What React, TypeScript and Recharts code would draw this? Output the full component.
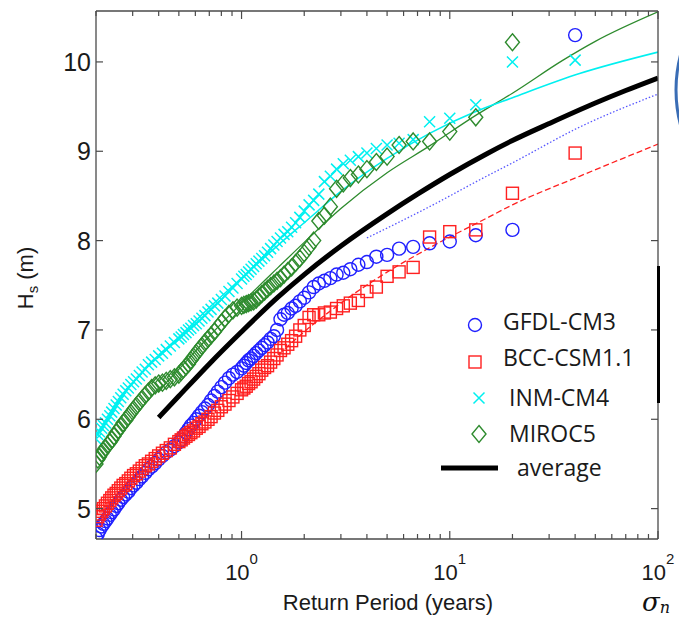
import React from "react";
import { ComposedChart, Scatter, Line, XAxis, YAxis, Legend } from "recharts";

// return periods (years) shared by the four model samples, largest first
const returnPeriods = [
  40, 20, 13.33, 10, 8, 6.67, 5.71, 5, 4.44, 4, 3.64, 3.33, 3.08, 2.86, 2.67, 2.5, 2.35, 2.22, 2.11, 2,
  1.905, 1.818, 1.739, 1.667, 1.6, 1.538, 1.481, 1.429, 1.379, 1.333, 1.29, 1.25, 1.212, 1.176, 1.143, 1.111, 1.081, 1.053, 1.026, 1,
  0.952, 0.909, 0.87, 0.833, 0.8, 0.769, 0.741, 0.714, 0.69, 0.667, 0.645, 0.625, 0.606, 0.588, 0.571, 0.556, 0.541, 0.526, 0.513, 0.5,
  0.476, 0.455, 0.435, 0.417, 0.4, 0.385, 0.37, 0.357, 0.345, 0.333, 0.323, 0.3125, 0.303, 0.294, 0.286,
  0.278, 0.27, 0.263, 0.256, 0.25, 0.244, 0.238, 0.233, 0.227, 0.222, 0.217, 0.213, 0.208, 0.204, 0.2,
];

const gfdl = [
  10.3, 8.12, 8.06, 7.99, 7.97, 7.93, 7.91, 7.84, 7.82, 7.76, 7.73, 7.68, 7.64, 7.62, 7.58, 7.55, 7.52, 7.48, 7.42, 7.36,
  7.32, 7.27, 7.24, 7.19, 7.17, 7.12, 7.0, 6.93, 6.9, 6.86, 6.83, 6.8, 6.77, 6.74, 6.71, 6.68, 6.66, 6.63, 6.6, 6.57,
  6.53, 6.5, 6.46, 6.41, 6.36, 6.31, 6.26, 6.21, 6.16, 6.12, 6.08, 6.04, 6.0, 5.96, 5.93, 5.89, 5.85, 5.81, 5.77, 5.74,
  5.7, 5.66, 5.63, 5.59, 5.55, 5.51, 5.47, 5.44, 5.4, 5.36, 5.33, 5.29, 5.26, 5.23, 5.19,
  5.16, 5.13, 5.1, 5.06, 5.03, 4.99, 4.96, 4.93, 4.89, 4.86, 4.83, 4.8, 4.76, 4.72, 4.67,
];

const bcc = [
  8.98, 8.53, 8.12, 8.1, 8.04, 7.7, 7.65, 7.6, 7.48, 7.43, 7.33, 7.3, 7.27, 7.24, 7.2, 7.19, 7.17, 7.17, 7.14, 7.05,
  7.0, 6.93, 6.88, 6.84, 6.8, 6.77, 6.72, 6.68, 6.64, 6.6, 6.58, 6.55, 6.51, 6.48, 6.45, 6.42, 6.4, 6.37, 6.35, 6.33,
  6.29, 6.25, 6.21, 6.17, 6.14, 6.1, 6.07, 6.03, 6.0, 5.97, 5.95, 5.92, 5.9, 5.87, 5.85, 5.83, 5.81, 5.79, 5.77, 5.75,
  5.72, 5.68, 5.65, 5.62, 5.59, 5.56, 5.53, 5.5, 5.48, 5.45, 5.42, 5.39, 5.37, 5.34, 5.31,
  5.28, 5.26, 5.23, 5.2, 5.17, 5.15, 5.12, 5.09, 5.06, 5.03, 5.0, 4.97, 4.94, 4.91, 4.87,
];

const inm = [
  10.02, 10.0, 9.52, 9.37, 9.33, 9.13, 9.09, 9.07, 9.03, 8.98, 8.94, 8.9, 8.86, 8.8, 8.72, 8.66, 8.52, 8.45, 8.4, 8.33,
  8.26, 8.2, 8.15, 8.1, 8.07, 8.03, 7.99, 7.95, 7.91, 7.87, 7.83, 7.8, 7.77, 7.74, 7.71, 7.68, 7.65, 7.62, 7.6, 7.57,
  7.52, 7.47, 7.43, 7.38, 7.34, 7.3, 7.27, 7.23, 7.2, 7.16, 7.13, 7.1, 7.07, 7.05, 7.02, 7.0, 6.97, 6.95, 6.92, 6.9,
  6.86, 6.82, 6.78, 6.74, 6.71, 6.67, 6.64, 6.61, 6.56, 6.53, 6.49, 6.45, 6.42, 6.39, 6.35,
  6.32, 6.28, 6.24, 6.2, 6.16, 6.12, 6.08, 6.04, 6.0, 5.96, 5.93, 5.9, 5.86, 5.83, 5.78,
];

// top MIROC5 value is above the plotted range
const miroc = [
  null, 10.22, 9.38, 9.22, 9.11, 9.11, 9.07, 8.94, 8.88, 8.8, 8.74, 8.7, 8.64, 8.58, 8.38, 8.28, 8.22, 8.0, 7.93, 7.86,
  7.8, 7.75, 7.7, 7.66, 7.62, 7.58, 7.55, 7.52, 7.49, 7.46, 7.43, 7.4, 7.37, 7.34, 7.32, 7.31, 7.3, 7.29, 7.28, 7.27,
  7.25, 7.22, 7.18, 7.13, 7.08, 7.03, 6.98, 6.94, 6.9, 6.86, 6.82, 6.78, 6.74, 6.7, 6.66, 6.62, 6.59, 6.56, 6.53, 6.5,
  6.47, 6.45, 6.43, 6.41, 6.4, 6.38, 6.35, 6.31, 6.27, 6.23, 6.19, 6.15, 6.11, 6.07, 6.03,
  5.99, 5.96, 5.92, 5.88, 5.85, 5.81, 5.77, 5.74, 5.71, 5.68, 5.65, 5.62, 5.58, 5.55, 5.5,
];

// fitted curves
const avgT = [0.4, 0.5, 0.7, 1, 1.5, 2, 3, 5, 7, 10, 15, 20, 30, 50, 70, 100];
const avgH = [6.02, 6.26, 6.62, 6.98, 7.37, 7.62, 7.94, 8.3, 8.52, 8.74, 8.97, 9.12, 9.31, 9.54, 9.68, 9.82];

const mirocFitT = [0.4, 0.5, 0.7, 1, 1.5, 2, 3, 5, 8, 13.5, 20, 35, 50, 100];
const mirocFitH = [6.32, 6.56, 6.93, 7.3, 7.7, 7.98, 8.36, 8.76, 9.06, 9.41, 9.65, 10.02, 10.23, 10.56];

const inmFitT = [0.4, 0.5, 0.7, 1, 1.5, 2, 3, 5, 8, 13.5, 20, 42, 100];
const inmFitH = [6.72, 6.92, 7.25, 7.58, 7.95, 8.2, 8.55, 8.92, 9.2, 9.45, 9.6, 9.87, 10.11];

const gfdlFitT = [4, 5, 8, 15, 20, 42, 100];
const gfdlFitH = [8.03, 8.14, 8.38, 8.72, 8.87, 9.27, 9.64];

const bccFitT = [1.5, 2, 3, 4.64, 8, 15, 20, 42, 100];
const bccFitH = [6.72, 6.98, 7.3, 7.6, 7.92, 8.25, 8.4, 8.72, 9.08];

const xTicks = [
  0.2, 0.3, 0.4, 0.5, 0.6, 0.7, 0.8, 0.9, 1, 2, 3, 4, 5, 6, 7, 8, 9,
  10, 20, 30, 40, 50, 60, 70, 80, 90, 100,
];
const xMajorTicks = [1, 10, 100];
const xTickExponents = ["0", "1", "2"];
const yTicks = [5, 6, 7, 8, 9, 10];

const legendNames = ["GFDL-CM3", "BCC-CSM1.1", "INM-CM4", "MIROC5", "average"];

const AX = "#4a4a4a";
const TXT = "#1a1a1a";
const FONT = '"Liberation Sans", Arial, sans-serif';
const BLUE = "#2020ff";
const RED = "#ff2020";
const CYAN = "#00f0f0";
const GREEN = "#2e8b2e";

const pts = (xs: number[], ys: (number | null)[]) =>
  xs.map((T, i) => ({ T, H: ys[i] })).filter((d) => d.H != null);

const circleShape = (p: any) => (
  <circle cx={p.cx} cy={p.cy} r={6.5} fill="none" stroke={BLUE} strokeWidth={1.4} />
);
const squareShape = (p: any) => (
  <rect x={p.cx - 6} y={p.cy - 6} width={12} height={12} fill="none" stroke={RED} strokeWidth={1.4} />
);
const crossShape = (p: any) => (
  <path
    d={`M${p.cx - 5.5},${p.cy - 5.5}L${p.cx + 5.5},${p.cy + 5.5}M${p.cx - 5.5},${p.cy + 5.5}L${p.cx + 5.5},${p.cy - 5.5}`}
    stroke={CYAN}
    strokeWidth={1.5}
  />
);
const diamondShape = (p: any) => (
  <path
    d={`M${p.cx},${p.cy - 8.5}L${p.cx + 7},${p.cy}L${p.cx},${p.cy + 8.5}L${p.cx - 7},${p.cy}Z`}
    fill="none"
    stroke={GREEN}
    strokeWidth={1.4}
  />
);

const BottomTick = (props: any) => {
  const { x, y, payload } = props;
  const idx = xMajorTicks.indexOf(payload.value);
  const len = idx >= 0 ? 8 : 5;
  return (
    <g>
      <line x1={x} x2={x} y1={y} y2={y - len} stroke={AX} strokeWidth={1.2} />
      {idx >= 0 && (
        <text x={x} y={y + 41} textAnchor="middle" fontFamily={FONT} fontSize={22} fill={TXT}>
          10
          <tspan dy={-16} fontSize={15}>
            {xTickExponents[idx]}
          </tspan>
        </text>
      )}
    </g>
  );
};

const TopTick = (props: any) => {
  const { x, y, payload } = props;
  const len = xMajorTicks.includes(payload.value) ? 8 : 5;
  return <line x1={x} x2={x} y1={y} y2={y + len} stroke={AX} strokeWidth={1.2} />;
};

const LeftTick = (props: any) => {
  const { x, y, payload } = props;
  return (
    <g>
      <line x1={x} x2={x + 7} y1={y} y2={y} stroke={AX} strokeWidth={1.2} />
      <text x={x - 5} y={y} dy="0.36em" textAnchor="end" fontFamily={FONT} fontSize={25} fill={TXT}>
        {payload.value}
      </text>
    </g>
  );
};

const RightTick = (props: any) => {
  const { x, y } = props;
  return <line x1={x} x2={x - 7} y1={y} y2={y} stroke={AX} strokeWidth={1.2} />;
};

const YLabel = () => (
  <text transform="translate(33,278) rotate(-90)" textAnchor="middle" fontFamily={FONT} fontSize={22} fill={TXT}>
    H
    <tspan dy={5} fontSize={15}>
      s
    </tspan>
    <tspan dy={-5}> (m)</tspan>
  </text>
);

const XLabel = () => (
  <text x={388} y={610} textAnchor="middle" fontFamily={FONT} fontSize={22} fill={TXT}>
    Return Period (years)
  </text>
);

const LegendBox = () => {
  const lf = '"Open Sans", "Noto Sans", sans-serif';
  return (
    <svg width={679} height={617} style={{ overflow: "visible" }}>
      {circleShape({ cx: 475, cy: 325 })}
      <text x={503} y={330} fontFamily={lf} fontSize={23} fill={TXT}>{legendNames[0]}</text>
      {squareShape({ cx: 475, cy: 362 })}
      <text x={503} y={366} fontFamily={lf} fontSize={23} fill={TXT}>{legendNames[1]}</text>
      {crossShape({ cx: 479, cy: 398 })}
      <text x={509} y={406} fontFamily={lf} fontSize={23} fill={TXT}>{legendNames[2]}</text>
      {diamondShape({ cx: 479, cy: 434 })}
      <text x={509} y={442} fontFamily={lf} fontSize={23} fill={TXT}>{legendNames[3]}</text>
      <line x1={441} x2={498} y1={468} y2={468} stroke="#000" strokeWidth={5} />
      <text x={517} y={476} fontFamily={lf} fontSize={23} fill={TXT}>{legendNames[4]}</text>
    </svg>
  );
};

export default function App() {
  return (
    <div style={{ position: "absolute", left: 0, top: 0, width: 679, height: 617, background: "#fff" }}>
      <ComposedChart width={679} height={617} margin={{ top: 6, right: 11, bottom: 38, left: 36 }}>
        <XAxis
          dataKey="T"
          type="number"
          scale="log"
          domain={[0.2, 100]}
          allowDataOverflow
          ticks={xTicks}
          interval={0}
          height={40}
          tickSize={0}
          tickMargin={0}
          tick={<BottomTick />}
          axisLine={{ stroke: AX, strokeWidth: 1.3 }}
          label={<XLabel />}
        />
        <XAxis
          xAxisId="top"
          orientation="top"
          dataKey="T"
          type="number"
          scale="log"
          domain={[0.2, 100]}
          allowDataOverflow
          ticks={xTicks}
          interval={0}
          height={5}
          tickSize={0}
          tickMargin={0}
          tick={<TopTick />}
          axisLine={{ stroke: AX, strokeWidth: 1.3 }}
        />
        <YAxis
          type="number"
          domain={[4.66, 10.57]}
          allowDataOverflow
          ticks={yTicks}
          interval={0}
          width={60}
          tickSize={0}
          tickMargin={0}
          tick={<LeftTick />}
          axisLine={{ stroke: AX, strokeWidth: 1.3 }}
          label={<YLabel />}
        />
        <YAxis
          yAxisId="right"
          orientation="right"
          type="number"
          domain={[4.66, 10.57]}
          allowDataOverflow
          ticks={yTicks}
          interval={0}
          width={10}
          tickSize={0}
          tickMargin={0}
          tick={<RightTick />}
          axisLine={{ stroke: AX, strokeWidth: 1.3 }}
        />

        <Line data={pts(mirocFitT, mirocFitH)} dataKey="H" type="monotone" stroke={GREEN} strokeWidth={1.3} dot={false} isAnimationActive={false} legendType="none" />
        <Line data={pts(inmFitT, inmFitH)} dataKey="H" type="monotone" stroke={CYAN} strokeWidth={1.6} dot={false} isAnimationActive={false} legendType="none" />
        <Line data={pts(gfdlFitT, gfdlFitH)} dataKey="H" type="monotone" stroke="#5555ff" strokeWidth={1.3} strokeDasharray="1.5 2" dot={false} isAnimationActive={false} legendType="none" />
        <Line data={pts(bccFitT, bccFitH)} dataKey="H" type="monotone" stroke={RED} strokeWidth={1.3} strokeDasharray="6 3" dot={false} isAnimationActive={false} legendType="none" />

        <Scatter name="GFDL-CM3" data={pts(returnPeriods, gfdl)} dataKey="H" shape={circleShape} isAnimationActive={false} />
        <Scatter name="BCC-CSM1.1" data={pts(returnPeriods, bcc)} dataKey="H" shape={squareShape} isAnimationActive={false} />
        <Scatter name="INM-CM4" data={pts(returnPeriods, inm)} dataKey="H" shape={crossShape} isAnimationActive={false} />
        <Scatter name="MIROC5" data={pts(returnPeriods, miroc)} dataKey="H" shape={diamondShape} isAnimationActive={false} />

        <Line name="average" data={pts(avgT, avgH)} dataKey="H" type="monotone" stroke="#000" strokeWidth={5} dot={false} isAnimationActive={false} />

        <Legend
          layout="horizontal"
          verticalAlign="middle"
          align="center"
          wrapperStyle={{ left: 0, top: 0, width: 679, height: 617, pointerEvents: "none" }}
          content={() => <LegendBox />}
        />
      </ComposedChart>
      {/* cropped pieces of neighbouring figures in the source image */}
      <svg width={679} height={617} style={{ position: "absolute", left: 0, top: 0, pointerEvents: "none" }}>
        <circle cx={814} cy={90} r={138} fill="none" stroke="#3a6db5" strokeWidth={3} />
        <line x1={658.5} x2={658.5} y1={266} y2={403} stroke="#000" strokeWidth={3} />
        <text x={642} y={611} fontFamily='"DejaVu Serif", serif' fontStyle="italic" fontSize={26} fill="#111">
          σ<tspan fontSize={16} dy={2}>n</tspan>
        </text>
      </svg>
    </div>
  );
}
